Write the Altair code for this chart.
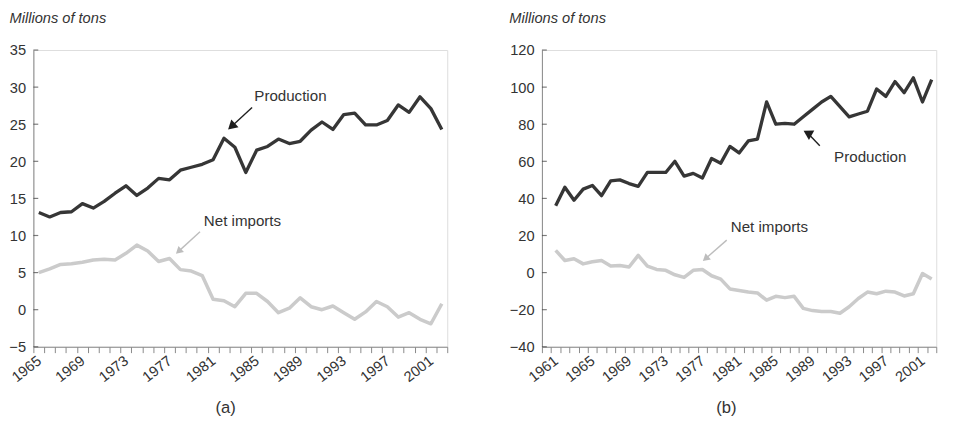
import altair as alt
import pandas as pd

FONT = "Liberation Sans"

# ---------------- data: panel (a) ----------------
years_a = list(range(1965, 2003))
production_a = [13.1, 12.5, 13.1, 13.2, 14.3, 13.7, 14.6, 15.7, 16.7, 15.4,
                16.4, 17.7, 17.5, 18.8, 19.2, 19.6, 20.2, 23.1, 21.9, 18.5,
                21.5, 22.0, 23.0, 22.4, 22.7, 24.2, 25.3, 24.3, 26.3, 26.5,
                24.9, 24.9, 25.5, 27.6, 26.6, 28.7, 27.1, 24.3]
net_imports_a = [5.0, 5.5, 6.1, 6.2, 6.4, 6.7, 6.8, 6.7, 7.6, 8.7,
                 7.9, 6.5, 6.9, 5.4, 5.2, 4.6, 1.4, 1.2, 0.4, 2.2,
                 2.2, 1.1, -0.4, 0.2, 1.6, 0.4, 0.0, 0.5, -0.4, -1.3,
                 -0.3, 1.1, 0.4, -1.0, -0.4, -1.3, -1.9, 0.8]
y_ticks_a = [-5, 0, 5, 10, 15, 20, 25, 30, 35]
x_domain_a = [1964.5, 2002.5]

# ---------------- data: panel (b) ----------------
years_b = list(range(1961, 2003))
production_b = [36, 46, 39, 45, 47, 41.5, 49.5, 50, 48, 46.5,
                54, 54, 54, 60, 52, 53.5, 51, 61.5, 59, 68,
                64.5, 71, 72, 92, 80, 80.5, 80, 84, 88, 92,
                95, 89.5, 84, 85.5, 87, 99, 95, 103, 97, 105,
                92, 104]
net_imports_b = [12, 6.5, 7.5, 4.7, 5.8, 6.5, 3.5, 3.8, 3.0, 9.3,
                 3.5, 1.7, 1.2, -1.2, -2.6, 1.2, 1.7, -1.7, -3.5, -8.8,
                 -9.6, -10.5, -11, -14.9, -12.8, -13.5, -12.8, -19.3, -20.5, -21,
                 -21, -21.9, -18.4, -14, -10.5, -11.4, -10, -10.5, -12.6, -11.4,
                 -0.5, -3.5]
y_ticks_b = [-40, -20, 0, 20, 40, 60, 80, 100, 120]
x_domain_b = [1959.5, 2002.5]

# annotation labels (data coordinates)
labels_a = {"text": ["Production", "Net imports"], "year": [1988.1, 1983.7], "value": [28.8, 12.0]}
labels_b = {"text": ["Production", "Net imports"], "year": [1995.3, 1984.3], "value": [62.4, 24.5]}

# arrows: start (year, value) -> head (year2, value2), data coordinates
arrows_a = {"series": ["Production", "Net imports"],
            "year": [1984.58, 1979.8], "value": [27.24, 10.49],
            "year2": [1982.69, 1977.83], "value2": [24.7, 7.86],
            "angle": [227.5, 227.8]}
arrows_b = {"series": ["Production", "Net imports"],
            "year": [1989.8, 1979.65], "value": [68.4, 17.5],
            "year2": [1988.47, 1977.34], "value2": [75.3, 7.5],
            "angle": [300, 229]}

SERIES = ["Production", "Net imports"]
LINE_COLORS = ["#363636", "#cbcbcb"]
ARROW_COLORS = ["#1e1e1e", "#bdbdbd"]
HEAD_SIZES = [120, 70]


def panel(years, prod, net, y_ticks, x_domain, first_label, title_x, width, height,
          labels, arrows, tag, tag_dx):
    n_years = x_domain[1] - x_domain[0]
    px_per_year = width / n_years
    tick_vals = [x_domain[0] + i for i in range(int(n_years) + 1)]

    df = pd.DataFrame({
        "year": years + years,
        "value": prod + net,
        "series": ["Production"] * len(years) + ["Net imports"] * len(years),
    })

    x_scale = alt.Scale(domain=x_domain, nice=False, zero=False, padding=0)
    y_scale = alt.Scale(domain=[y_ticks[0], y_ticks[-1]], nice=False, zero=False, padding=0)
    color = alt.Color("series:N", scale=alt.Scale(domain=SERIES, range=LINE_COLORS), legend=None)
    acolor = alt.Color("series:N", scale=alt.Scale(domain=SERIES, range=ARROW_COLORS), legend=None)

    x_axis = alt.Axis(
        values=tick_vals, title=None, grid=False,
        labelExpr=f"(datum.value + 0.5 - {first_label}) % 4 == 0 ? format(datum.value + 0.5, 'd') : ''",
        labelOffset=px_per_year / 2, labelAngle=-38, labelAlign="right",
        labelBaseline="middle", labelPadding=6, tickSize=6, labelOverlap=False,
        labelFlush=False, labelFontSize=15, labelFont=FONT, labelColor="#333",
    )
    y_axis = alt.Axis(
        values=y_ticks, tickSize=0, labelPadding=8, grid=False,
        labelFontSize=15, labelFont=FONT, labelColor="#333", labelOverlap=False,
        labelFlush=False,
        title="Millions of tons", titleAngle=0, titleX=title_x,
        titleY=-28, titleAlign="left", titleBaseline="alphabetic",
        titleFontStyle="italic", titleFontWeight="normal", titleFontSize=15,
        titleFont=FONT, titleColor="#333",
    )

    lines = alt.Chart(df).mark_line(strokeJoin="round").encode(
        color=color,
        strokeWidth=alt.StrokeWidth("series:N", scale=alt.Scale(domain=SERIES, range=[3.4, 3.6]),
                                    legend=None),
        detail="series:N",
    )

    ticks_df = pd.DataFrame({"year": [x_domain[0]] * len(y_ticks), "value": y_ticks})
    yticks = alt.Chart(ticks_df).mark_tick(orient="horizontal", size=5, thickness=1.2,
                                           xOffset=2.5, color="#444")

    adf = pd.DataFrame(arrows)
    shafts = alt.Chart(adf).mark_rule(strokeWidth=1.4).encode(
        x2="year2:Q", y2="value2:Q", color=acolor,
    )
    hdf = pd.DataFrame({"series": arrows["series"], "year": arrows["year2"],
                        "value": arrows["value2"], "angle": arrows["angle"],
                        "size": HEAD_SIZES})
    heads = alt.Chart(hdf).mark_point(shape="triangle-up", filled=True, opacity=1).encode(
        angle=alt.Angle("angle:Q", scale=None),
        size=alt.Size("size:Q", scale=None),
        color=acolor,
    )

    texts = alt.Chart(pd.DataFrame(labels)).mark_text(
        font=FONT, fontSize=15.5, color="#333", align="center", baseline="middle"
    ).encode(text="text:N")

    return alt.layer(lines, yticks, shafts, heads, texts).encode(
        x=alt.X("year:Q", scale=x_scale, axis=x_axis),
        y=alt.Y("value:Q", scale=y_scale, axis=y_axis),
    ).resolve_scale(color="independent").properties(
        width=width, height=height,
        title=alt.TitleParams(tag, orient="bottom", fontSize=17, fontWeight="normal", font=FONT,
                              color="#333", offset=16, dx=tag_dx, anchor="middle"),
    )


left = panel(years_a, production_a, net_imports_a, y_ticks_a, x_domain_a, 1965, -25,
             424, 304, labels_a, arrows_a, "(a)", -15)
right = panel(years_b, production_b, net_imports_b, y_ticks_b, x_domain_b, 1961, -34,
              404, 304, labels_b, arrows_b, "(b)", -13)

chart = alt.hconcat(left, right, spacing=50).properties(
    padding={"left": 0, "top": -3, "right": 0, "bottom": 0}
).configure_view(stroke=None, strokeOpacity=0).configure_axis(
    domainColor="#444", domainWidth=1.2, tickColor="#444", tickWidth=1.1,
).configure(background="white")

chart.save("out.html", embed_options={"renderer": "svg", "actions": False})
